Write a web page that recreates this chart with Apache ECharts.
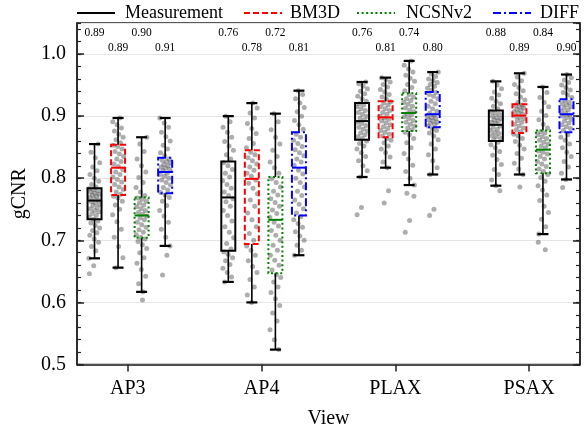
<!DOCTYPE html>
<html><head><meta charset="utf-8">
<script src="https://cdn.jsdelivr.net/npm/echarts@6/dist/echarts.min.js"></script>
<style>html,body{margin:0;padding:0;background:#fff}#c{width:586px;height:432px}</style>
</head><body><div id="c"></div>
<script>
const views = ['AP3', 'AP4', 'PLAX', 'PSAX'];
const methods = ['Measurement', 'BM3D', 'NCSNv2', 'DIFF'];

// box stats per view: [lower whisker, q1, median, q3, upper whisker]
const boxMeasurement = [[0.671,0.734,0.764,0.784,0.855],[0.633,0.683,0.769,0.827,0.900],[0.802,0.862,0.892,0.921,0.955],[0.788,0.860,0.886,0.909,0.956]];
const boxBM3D        = [[0.656,0.773,0.817,0.854,0.897],[0.600,0.694,0.799,0.845,0.921],[0.817,0.866,0.898,0.924,0.962],[0.806,0.873,0.901,0.919,0.969]];
const boxNCSNv2      = [[0.617,0.704,0.740,0.769,0.866],[0.524,0.647,0.733,0.802,0.904],[0.789,0.876,0.905,0.937,0.989],[0.710,0.808,0.846,0.877,0.947]];
const boxDIFF        = [[0.691,0.776,0.810,0.833,0.897],[0.676,0.740,0.817,0.874,0.941],[0.806,0.882,0.903,0.939,0.971],[0.798,0.874,0.903,0.927,0.967]];

// numbers printed above each box
const scoreMeasurement = ['0.89', '0.76', '0.76', '0.88'];
const scoreBM3D        = ['0.89', '0.78', '0.81', '0.89'];
const scoreNCSNv2      = ['0.90', '0.72', '0.74', '0.84'];
const scoreDIFF        = ['0.91', '0.81', '0.80', '0.90'];

// individual gCNR samples (scatter)
const ptsMeasurementAP3 = [0.671,0.683,0.690,0.697,0.702,0.708,0.712,0.716,0.720,0.724,0.728,0.731,0.734,0.737,0.740,0.743,0.746,0.748,0.751,0.753,0.756,0.758,0.760,0.762,0.765,0.767,0.769,0.771,0.773,0.774,0.776,0.778,0.780,0.782,0.783,0.786,0.790,0.795,0.800,0.806,0.812,0.818,0.825,0.833,0.842,0.855,0.659,0.646];
const ptsBM3DAP3 = [0.656,0.672,0.690,0.705,0.718,0.730,0.741,0.750,0.757,0.763,0.768,0.771,0.774,0.778,0.782,0.786,0.790,0.794,0.798,0.802,0.806,0.810,0.814,0.819,0.823,0.827,0.831,0.835,0.839,0.843,0.847,0.851,0.853,0.857,0.862,0.866,0.871,0.876,0.881,0.886,0.891,0.897];
const ptsNCSNv2AP3 = [0.617,0.630,0.642,0.653,0.663,0.672,0.680,0.687,0.693,0.698,0.702,0.705,0.709,0.713,0.717,0.721,0.725,0.729,0.733,0.736,0.739,0.742,0.745,0.748,0.751,0.754,0.757,0.760,0.763,0.766,0.768,0.772,0.778,0.785,0.793,0.801,0.810,0.820,0.831,0.843,0.855,0.866,0.604];
const ptsDIFFAP3 = [0.691,0.705,0.718,0.729,0.739,0.748,0.756,0.763,0.769,0.773,0.777,0.781,0.785,0.789,0.793,0.797,0.800,0.803,0.806,0.808,0.812,0.814,0.816,0.818,0.820,0.822,0.825,0.827,0.829,0.831,0.836,0.841,0.847,0.853,0.860,0.867,0.874,0.882,0.889,0.897,0.676,0.644];

const ptsMeasurementAP4 = [0.633,0.641,0.648,0.655,0.661,0.667,0.672,0.677,0.681,0.686,0.695,0.704,0.713,0.722,0.731,0.740,0.748,0.755,0.762,0.767,0.772,0.778,0.784,0.790,0.796,0.802,0.808,0.814,0.820,0.825,0.831,0.838,0.845,0.852,0.859,0.866,0.874,0.882,0.891,0.900];
const ptsBM3DAP4 = [0.600,0.612,0.625,0.637,0.648,0.658,0.667,0.676,0.684,0.691,0.700,0.711,0.722,0.733,0.744,0.755,0.765,0.775,0.784,0.792,0.797,0.803,0.808,0.813,0.818,0.823,0.828,0.833,0.838,0.842,0.849,0.856,0.864,0.872,0.880,0.888,0.897,0.905,0.913,0.921];
const ptsNCSNv2AP4 = [0.524,0.540,0.556,0.570,0.583,0.595,0.606,0.616,0.625,0.633,0.640,0.645,0.652,0.660,0.668,0.676,0.684,0.692,0.700,0.708,0.716,0.723,0.729,0.737,0.743,0.749,0.755,0.761,0.767,0.773,0.779,0.786,0.793,0.799,0.808,0.817,0.826,0.835,0.845,0.855,0.866,0.878,0.891,0.904];
const ptsDIFFAP4 = [0.676,0.684,0.692,0.700,0.707,0.714,0.721,0.727,0.733,0.738,0.744,0.751,0.758,0.765,0.772,0.779,0.786,0.793,0.800,0.807,0.813,0.821,0.826,0.831,0.836,0.841,0.846,0.851,0.856,0.861,0.866,0.871,0.879,0.886,0.893,0.900,0.907,0.914,0.921,0.928,0.935,0.941];

const ptsMeasurementPLAX = [0.802,0.812,0.820,0.828,0.835,0.841,0.847,0.852,0.856,0.860,0.864,0.867,0.870,0.873,0.876,0.879,0.882,0.885,0.888,0.890,0.894,0.897,0.900,0.903,0.906,0.909,0.912,0.915,0.918,0.920,0.924,0.928,0.932,0.936,0.940,0.944,0.948,0.952,0.955,0.753,0.741];
const ptsBM3DPLAX = [0.817,0.826,0.834,0.841,0.847,0.852,0.857,0.861,0.864,0.868,0.871,0.874,0.877,0.880,0.883,0.886,0.889,0.892,0.895,0.897,0.900,0.903,0.906,0.909,0.912,0.915,0.918,0.921,0.923,0.927,0.931,0.935,0.939,0.943,0.947,0.951,0.955,0.959,0.962,0.780,0.760];
const ptsNCSNv2PLAX = [0.789,0.800,0.811,0.821,0.831,0.840,0.849,0.857,0.864,0.870,0.874,0.878,0.881,0.884,0.887,0.890,0.893,0.896,0.899,0.902,0.904,0.907,0.910,0.913,0.916,0.919,0.922,0.925,0.928,0.931,0.935,0.941,0.946,0.951,0.956,0.961,0.966,0.971,0.976,0.982,0.989,0.776,0.771,0.732,0.713];
const ptsDIFFPLAX = [0.806,0.817,0.828,0.838,0.847,0.855,0.862,0.868,0.873,0.877,0.880,0.884,0.886,0.888,0.890,0.892,0.894,0.896,0.898,0.900,0.902,0.905,0.908,0.912,0.916,0.920,0.924,0.928,0.932,0.935,0.938,0.942,0.945,0.948,0.951,0.954,0.957,0.960,0.964,0.968,0.971,0.750,0.740];

const ptsMeasurementPSAX = [0.788,0.797,0.806,0.814,0.822,0.830,0.837,0.843,0.849,0.854,0.858,0.862,0.864,0.867,0.869,0.872,0.874,0.877,0.879,0.882,0.884,0.888,0.890,0.892,0.894,0.896,0.898,0.900,0.903,0.905,0.907,0.912,0.916,0.920,0.924,0.929,0.934,0.939,0.944,0.950,0.956,0.780];
const ptsBM3DPSAX = [0.806,0.815,0.824,0.832,0.840,0.847,0.853,0.859,0.864,0.868,0.871,0.875,0.878,0.881,0.884,0.887,0.890,0.893,0.896,0.898,0.900,0.903,0.905,0.907,0.909,0.911,0.913,0.915,0.917,0.918,0.922,0.926,0.931,0.936,0.941,0.946,0.951,0.957,0.963,0.969,0.786];
const ptsNCSNv2PSAX = [0.710,0.722,0.734,0.745,0.755,0.764,0.773,0.781,0.788,0.795,0.801,0.806,0.811,0.815,0.819,0.823,0.827,0.831,0.835,0.839,0.842,0.844,0.849,0.852,0.855,0.858,0.861,0.864,0.867,0.870,0.873,0.875,0.881,0.887,0.894,0.901,0.908,0.915,0.922,0.930,0.938,0.947,0.697,0.685];
const ptsDIFFPSAX = [0.798,0.808,0.818,0.827,0.835,0.842,0.849,0.855,0.861,0.866,0.870,0.877,0.880,0.883,0.886,0.889,0.892,0.895,0.898,0.900,0.902,0.905,0.908,0.910,0.913,0.915,0.918,0.920,0.922,0.925,0.930,0.934,0.938,0.942,0.946,0.950,0.954,0.958,0.962,0.967,0.785];

// ---------------- drawing ----------------
const FONT = '"Liberation Serif", "DejaVu Serif", serif';
const boxStats = [boxMeasurement, boxBM3D, boxNCSNv2, boxDIFF];
const scores = [scoreMeasurement, scoreBM3D, scoreNCSNv2, scoreDIFF];
const points = [
  [ptsMeasurementAP3, ptsMeasurementAP4, ptsMeasurementPLAX, ptsMeasurementPSAX],
  [ptsBM3DAP3, ptsBM3DAP4, ptsBM3DPLAX, ptsBM3DPSAX],
  [ptsNCSNv2AP3, ptsNCSNv2AP4, ptsNCSNv2PLAX, ptsNCSNv2PSAX],
  [ptsDIFFAP3, ptsDIFFAP4, ptsDIFFPLAX, ptsDIFFPSAX]
];
const colors = ['#000000', '#ff0000', '#008000', '#0000ff'];
const dashes = [null, [6, 3], [2, 2.6], [8, 3, 2, 3]];
const offsets = [-0.249, -0.073, 0.103, 0.279];
const labelLevels = [1.0344, 1.0102, 1.0344, 1.0102];
// legend layout (pixels)
const legendLineX = [77, 244, 357, 493];
const legendTextX = [125, 290, 406, 540];
const legendY = 13;

const scatterData = [];
points.forEach((byView, mi) => {
  byView.forEach((vals, vi) => {
    vals.forEach((v, k) => {
      const j = ((k * 0.6180339887 + mi * 0.31 + vi * 0.17) % 1 - 0.5) * 0.085;
      scatterData.push([vi + offsets[mi] + j, v]);
    });
  });
});

function boxSeries(mi) {
  return {
    type: 'custom',
    name: 'box_' + methods[mi],
    z: 4,
    silent: true,
    data: boxStats[mi].map((s, i) => [i, s[0], s[1], s[2], s[3], s[4]]),
    encode: { x: 0, y: [1, 2, 3, 4, 5] },
    renderItem: function (params, api) {
      const vi = api.value(0);
      const xc = vi + offsets[mi];
      const pLw = api.coord([xc, api.value(1)]);
      const pQ1 = api.coord([xc, api.value(2)]);
      const pMd = api.coord([xc, api.value(3)]);
      const pQ3 = api.coord([xc, api.value(4)]);
      const pUw = api.coord([xc, api.value(5)]);
      const pTx = api.coord([xc, labelLevels[mi]]);
      const cx = pLw[0];
      const hw = 7, cap = 5.5;
      const blk = { stroke: '#000', lineWidth: 1.6 };
      const boxStyle = { fill: 'none', stroke: colors[mi], lineWidth: 2 };
      if (dashes[mi]) boxStyle.lineDash = dashes[mi];
      return {
        type: 'group',
        children: [
          { type: 'line', shape: { x1: cx, y1: pQ3[1], x2: cx, y2: pUw[1] }, style: blk },
          { type: 'line', shape: { x1: cx, y1: pQ1[1], x2: cx, y2: pLw[1] }, style: blk },
          { type: 'line', shape: { x1: cx - cap, y1: pUw[1], x2: cx + cap, y2: pUw[1] }, style: { stroke: '#000', lineWidth: 2.2 } },
          { type: 'line', shape: { x1: cx - cap, y1: pLw[1], x2: cx + cap, y2: pLw[1] }, style: { stroke: '#000', lineWidth: 2.2 } },
          { type: 'rect', shape: { x: cx - hw, y: pQ3[1], width: 2 * hw, height: pQ1[1] - pQ3[1] }, style: boxStyle },
          { type: 'line', shape: { x1: cx - hw, y1: pMd[1], x2: cx + hw, y2: pMd[1] }, style: { stroke: colors[mi], lineWidth: 2 } },
          { type: 'text', x: cx, y: pTx[1], style: { text: scores[mi][params.dataIndex], font: '11.5px ' + FONT, fill: '#000', align: 'center', verticalAlign: 'middle' } }
        ]
      };
    }
  };
}

const legendElements = [];
methods.forEach((m, mi) => {
  const st = { stroke: colors[mi], lineWidth: 2 };
  if (dashes[mi]) st.lineDash = dashes[mi];
  legendElements.push({ type: 'line', shape: { x1: legendLineX[mi], y1: legendY, x2: legendLineX[mi] + 38, y2: legendY }, style: st });
  legendElements.push({ type: 'text', x: legendTextX[mi], y: legendY, style: { text: m, font: '18px ' + FONT, fill: '#000', align: 'left', verticalAlign: 'middle' } });
});

const chart = echarts.init(document.getElementById('c'), null, { renderer: 'canvas' });
const yBase = { type: 'value', min: 0.5, max: 1.05, splitLine: { show: false }, axisLabel: { show: false } };
chart.setOption({
  animation: false,
  backgroundColor: '#fff',
  textStyle: { fontFamily: FONT, color: '#000' },
  grid: { left: 77, right: 6, top: 23, bottom: 67.5, show: true, borderColor: '#222', borderWidth: 1.5, containLabel: false, outerBoundsMode: 'none' },
  graphic: { elements: legendElements },
  xAxis: {
    type: 'value', min: -0.38, max: 3.38, position: 'bottom',
    name: 'View', nameLocation: 'middle', nameGap: 44,
    nameTextStyle: { fontFamily: FONT, fontSize: 20, color: '#000' },
    axisLine: { show: true, onZero: false, lineStyle: { color: '#222', width: 1.5 } },
    axisTick: { show: true, inside: false, length: 7, customValues: [0, 1, 2, 3], lineStyle: { color: '#222', width: 1.5 } },
    axisLabel: { customValues: [0, 1, 2, 3], formatter: v => views[Math.round(v)], fontFamily: FONT, fontSize: 20, color: '#000', margin: 14 },
    splitLine: { show: false }
  },
  yAxis: [
    {
      type: 'value', min: 0.5, max: 1.05, interval: 0.1, position: 'left',
      name: 'gCNR', nameLocation: 'middle', nameGap: 44,
      nameTextStyle: { fontFamily: FONT, fontSize: 20, color: '#000' },
      axisLine: { show: true, onZero: false, lineStyle: { color: '#222', width: 1.5 } },
      axisTick: { show: true, inside: true, length: 7, lineStyle: { color: '#222', width: 1.5 } },
      axisLabel: { fontFamily: FONT, fontSize: 20, color: '#000', margin: 11, showMaxLabel: false, formatter: v => v.toFixed(1) },
      splitLine: { show: true, lineStyle: { color: '#e6e6e6', width: 1.2 } }
    },
    Object.assign({}, yBase, { position: 'left', interval: 0.02, axisLine: { show: false, onZero: false },
      axisTick: { show: true, inside: true, length: 4, lineStyle: { color: '#222', width: 1.2 } } }),
    Object.assign({}, yBase, { position: 'right', interval: 0.1, axisLine: { show: true, onZero: false, lineStyle: { color: '#222', width: 1.5 } },
      axisTick: { show: true, inside: true, length: 7, lineStyle: { color: '#222', width: 1.5 } } }),
    Object.assign({}, yBase, { position: 'right', interval: 0.02, axisLine: { show: false, onZero: false },
      axisTick: { show: true, inside: true, length: 4, lineStyle: { color: '#222', width: 1.2 } } })
  ],
  series: [
    {
      type: 'scatter', name: 'samples', silent: true, z: 2,
      symbolSize: 5, data: scatterData,
      itemStyle: { color: '#333333', opacity: 0.4 }
    },
    boxSeries(0), boxSeries(1), boxSeries(2), boxSeries(3)
  ]
});
</script>
</body></html>
